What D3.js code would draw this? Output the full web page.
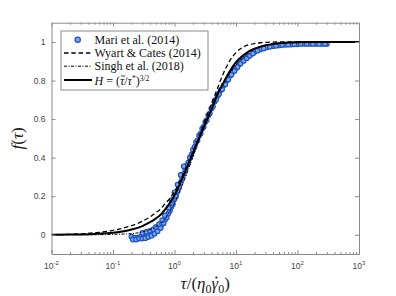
<!DOCTYPE html>
<html><head><meta charset="utf-8">
<script src="https://cdn.jsdelivr.net/npm/d3@7"></script>
<style>body{margin:0;background:#fff}svg{display:block}</style>
</head><body>
<script>
// ---- data ----
const xTickValues = [1e-2, 1e-1, 1e0, 1e1, 1e2, 1e3];
const xTickExponents = ["-2", "-1", "0", "1", "2", "3"];
const yTickValues = [0, 0.2, 0.4, 0.6, 0.8, 1];
const yTickLabels = ["0", "0.2", "0.4", "0.6", "0.8", "1"];

// Mari et al. (2014) simulation points
const mariX1 = [0.1995,0.2239,0.2512,0.2818,0.3162,0.3548,0.3981,0.4467,0.5012,0.5623,0.631,0.7079,0.7943,0.8913,1,1.122,1.259,1.413,1.585,1.778,1.995,2.239,2.512,2.818,3.162,3.548,3.981,4.467,5.012,5.623,6.31,7.079,7.943,8.913,10,11.22,12.59,14.13,15.85,19.95,25.12,31.62,39.81,50.12,63.1,79.43,100,125.9,158.5,199.5,251.2,300];
const mariY1 = [-0.01,-0.015,-0.015,-0.01,-0.01,-0.005,0.0,0.01,0.02,0.035,0.055,0.08,0.11,0.145,0.185,0.225,0.27,0.315,0.36,0.4,0.44,0.48,0.515,0.55,0.585,0.62,0.655,0.69,0.72,0.75,0.775,0.8,0.825,0.845,0.865,0.885,0.9,0.915,0.928,0.948,0.962,0.972,0.978,0.982,0.985,0.987,0.988,0.99,0.99,0.99,0.99,0.99];
const mariX2 = [0.21,0.237,0.266,0.299,0.335,0.376,0.422,0.473,0.531,0.596,0.668,0.75,0.841,0.944,1.059,1.189,1.334,1.496,1.679,1.884,2.113,2.371,2.661,2.985,3.35,3.758,4.217,4.732,5.309,5.957,6.683,7.499,8.414,9.441,10.59,11.89,13.34,14.96,16.79,18.84,22.39,28.18,35.48,44.67,56.23,70.79,89.13,112.2,141.3,177.8,223.9,281.8];
const mariY2 = [-0.025,-0.025,-0.02,-0.02,-0.018,-0.012,-0.005,0.005,0.018,0.035,0.06,0.09,0.125,0.16,0.2,0.245,0.29,0.335,0.375,0.415,0.455,0.49,0.525,0.56,0.595,0.63,0.665,0.7,0.73,0.755,0.78,0.805,0.83,0.85,0.87,0.888,0.902,0.915,0.928,0.94,0.955,0.966,0.975,0.98,0.984,0.986,0.988,0.99,0.99,0.99,0.99,0.99];
const mariX3 = [0.3,0.35,0.4,0.45,0.5,0.56,0.63,0.7,0.8,0.9,1.0,1.12,1.26,1.41];
const mariY3 = [0.01,0.015,0.02,0.028,0.04,0.055,0.075,0.1,0.14,0.18,0.22,0.26,0.31,0.355];

// Wyart & Cates (2014)
const wcX = [0.01,0.02,0.05,0.1,0.15,0.2,0.3,0.4,0.5,0.6,0.7,0.8,1,1.25,1.6,2,2.5,3.2,4,5,6.3,8,10,12.5,16,20,25,32,50,1000];
const wcY = [0.0,0.002,0.01,0.022,0.035,0.047,0.07,0.092,0.115,0.135,0.16,0.18,0.225,0.285,0.36,0.435,0.51,0.6,0.68,0.76,0.84,0.905,0.945,0.97,0.985,0.992,0.996,0.998,1,1];
// Singh et al. (2018)
const sgX = [0.01,0.05,0.1,0.2,0.3,0.4,0.5,0.6,0.7,0.8,1,1.25,1.6,2,2.5,3.2,4,5,6.3,8,10,12.5,16,20,25,32,40,63,100,1000];
const sgY = [0,0,0.002,0.006,0.014,0.026,0.042,0.062,0.085,0.11,0.165,0.235,0.32,0.405,0.49,0.575,0.65,0.72,0.785,0.84,0.88,0.915,0.945,0.963,0.976,0.985,0.99,0.996,0.998,1];
// H = (tau_bar/tau*)^{3/2}
const hX = [0.01,0.02,0.05,0.1,0.15,0.2,0.3,0.4,0.5,0.6,0.7,0.8,1,1.25,1.6,2,2.5,3.2,4,5,6.3,8,10,12.5,16,20,25,32,40,50,63,100,200,1000];
const hY = [0,0.001,0.004,0.01,0.018,0.027,0.045,0.065,0.085,0.105,0.13,0.155,0.205,0.27,0.35,0.425,0.5,0.58,0.65,0.73,0.79,0.85,0.895,0.925,0.95,0.965,0.976,0.984,0.99,0.993,0.996,0.999,1,1];

// ---- chart ----
const W = 396, H = 296;
const svg = d3.select("body").append("svg").attr("width", W).attr("height", H);
const x = d3.scaleLog().domain([1e-2, 1e3]).range([51.5, 359]);
const y = d3.scaleLinear().domain([-0.1, 1.1]).range([254, 22.7]);
const axisColor = "#8a8a8a", labelColor = "#444";
const markFill = "#78a8e6", markEdge = "#1f52c4";

const zip = (a, b) => a.map((v, i) => [v, b[i]]);
svg.append("clipPath").attr("id", "c").append("rect")
  .attr("x", x.range()[0]).attr("y", y.range()[1])
  .attr("width", x.range()[1] - x.range()[0]).attr("height", y.range()[0] - y.range()[1]);
const plot = svg.append("g").attr("clip-path", "url(#c)");

// data markers
const mari = zip(mariX1, mariY1).concat(zip(mariX2, mariY2), zip(mariX3, mariY3));
plot.selectAll("circle.m").data(mari).join("circle").attr("class", "m")
  .attr("cx", d => x(d[0])).attr("cy", d => y(d[1])).attr("r", 2.3)
  .attr("fill", markFill).attr("stroke", markEdge).attr("stroke-width", 1.2);

const line = d3.line().x(d => x(d[0])).y(d => y(d[1])).curve(d3.curveMonotoneX);
plot.append("path").datum(zip(wcX, wcY)).attr("d", line).attr("fill", "none")
  .attr("stroke", "#000").attr("stroke-width", 1.3).attr("stroke-dasharray", "4.5,2.8");
plot.append("path").datum(zip(sgX, sgY)).attr("d", line).attr("fill", "none")
  .attr("stroke", "#000").attr("stroke-width", 1).attr("stroke-dasharray", "3,1.5,1,1.5");
plot.append("path").datum(zip(hX, hY)).attr("d", line).attr("fill", "none")
  .attr("stroke", "#000").attr("stroke-width", 2);

// axes
const minorX = [];
for (let e = -2; e < 3; e++) for (let k = 2; k <= 9; k++) minorX.push(k * Math.pow(10, e));
const x0 = x.range()[0], x1 = x.range()[1], y0 = y.range()[0], y1 = y.range()[1];

function styleAxis(g) {
  g.select(".domain").attr("stroke", axisColor).attr("stroke-width", 1);
  g.selectAll(".tick line").attr("stroke", axisColor);
}
svg.append("g").attr("transform", `translate(0,${y0})`)
  .call(d3.axisBottom(x).tickValues(xTickValues).tickSizeInner(-4).tickSizeOuter(0).tickFormat(() => "")).call(styleAxis);
svg.append("g").attr("transform", `translate(0,${y0})`)
  .call(d3.axisBottom(x).tickValues(minorX).tickSizeInner(-2).tickSizeOuter(0).tickFormat(() => "")).call(styleAxis)
  .select(".domain").remove();
svg.append("g").attr("transform", `translate(0,${y1})`)
  .call(d3.axisTop(x).tickValues(xTickValues).tickSizeInner(-4).tickSizeOuter(0).tickFormat(() => "")).call(styleAxis);
svg.append("g").attr("transform", `translate(0,${y1})`)
  .call(d3.axisTop(x).tickValues(minorX).tickSizeInner(-2).tickSizeOuter(0).tickFormat(() => "")).call(styleAxis)
  .select(".domain").remove();
const gL = svg.append("g").attr("transform", `translate(${x0},0)`)
  .call(d3.axisLeft(y).tickValues(yTickValues).tickSizeInner(-4).tickSizeOuter(0).tickPadding(6)
    .tickFormat((d, i) => yTickLabels[i])).call(styleAxis);
svg.append("g").attr("transform", `translate(${x1},0)`)
  .call(d3.axisRight(y).tickValues(yTickValues).tickSizeInner(-4).tickSizeOuter(0).tickFormat(() => "")).call(styleAxis);

gL.selectAll(".tick text").attr("font-family", "Liberation Sans, Arial, sans-serif")
  .attr("font-size", 8.5).attr("fill", labelColor);

// x tick labels with exponent
svg.append("g").selectAll("text").data(xTickValues).join("text")
  .attr("x", d => x(d)).attr("y", y0 + 15).attr("text-anchor", "middle")
  .attr("font-family", "Liberation Sans, Arial, sans-serif").attr("font-size", 8.5).attr("fill", labelColor)
  .each(function (d, i) {
    const t = d3.select(this);
    t.append("tspan").text("10");
    t.append("tspan").attr("dy", -4).attr("font-size", 6).text(xTickExponents[i]);
  });

// axis titles
const serif = "Liberation Serif, DejaVu Serif, serif";
const xlBase = 289;
const xl = svg.append("text").attr("x", (x0 + x1) / 2).attr("y", xlBase).attr("text-anchor", "middle")
  .attr("font-family", serif).attr("font-size", 17).attr("fill", "#222");
xl.append("tspan").attr("font-style", "italic").text("τ");
xl.append("tspan").text("/(");
xl.append("tspan").attr("font-style", "italic").text("η");
xl.append("tspan").attr("font-size", 12).attr("dy", 4).text("0");
xl.append("tspan").attr("font-style", "italic").attr("dy", -4).text("γ");
xl.append("tspan").attr("font-size", 12).attr("dy", 4).text("0");
xl.append("tspan").attr("dy", -4).text(")");
{ // dot over gamma
  const n = xl.node();
  const s = n.getStartPositionOfChar(5), e = n.getEndPositionOfChar(5);
  svg.append("circle").attr("cx", (s.x + e.x) / 2 + 1.5).attr("cy", xlBase - 11.5).attr("r", 1.1).attr("fill", "#222");
}

const yl = svg.append("text").attr("transform", `translate(23,${(y0 + y1) / 2}) rotate(-90)`)
  .attr("text-anchor", "middle").attr("font-family", serif).attr("font-size", 17).attr("fill", "#222");
yl.append("tspan").attr("font-style", "italic").text("f");
yl.append("tspan").text("(");
yl.append("tspan").attr("font-style", "italic").text("τ");
yl.append("tspan").text(")");

// legend
const lg = svg.append("g");
lg.append("rect").attr("x", 61).attr("y", 31).attr("width", 147).attr("height", 59)
  .attr("fill", "#fff").attr("stroke", axisColor).attr("stroke-width", 1);
const rows = [39.8, 53, 66.2, 80];
const names = ["Mari et al. (2014)", "Wyart & Cates (2014)", "Singh et al. (2018)", null];
lg.append("circle").attr("cx", 77.7).attr("cy", rows[0]).attr("r", 2.6)
  .attr("fill", markFill).attr("stroke", markEdge).attr("stroke-width", 1.3);
lg.append("line").attr("x1", 64).attr("x2", 92).attr("y1", rows[1]).attr("y2", rows[1])
  .attr("stroke", "#000").attr("stroke-width", 1.3).attr("stroke-dasharray", "4.5,2.8");
lg.append("line").attr("x1", 64).attr("x2", 92).attr("y1", rows[2]).attr("y2", rows[2])
  .attr("stroke", "#000").attr("stroke-width", 1).attr("stroke-dasharray", "3,1.5,1,1.5");
lg.append("line").attr("x1", 64).attr("x2", 92).attr("y1", rows[3]).attr("y2", rows[3])
  .attr("stroke", "#000").attr("stroke-width", 2);
names.forEach((n, i) => {
  if (!n) return;
  lg.append("text").attr("x", 94.5).attr("y", rows[i] + 4).attr("font-family", serif)
    .attr("font-size", 12).attr("fill", "#111").text(n);
});
const hBase = rows[3] + 4.5;
const ht = lg.append("text").attr("x", 94.5).attr("y", hBase).attr("font-family", serif)
  .attr("font-size", 12).attr("fill", "#111");
ht.append("tspan").attr("font-style", "italic").text("H");
ht.append("tspan").text(" = (");
ht.append("tspan").attr("font-style", "italic").text("τ");
ht.append("tspan").text("/");
ht.append("tspan").attr("font-style", "italic").text("τ");
ht.append("tspan").attr("font-size", 7.5).attr("dy", -3.5).text("*");
ht.append("tspan").attr("dy", 3.5).text(")");
ht.append("tspan").attr("font-size", 7.5).attr("dy", -4).text("3/2");
{ // bar over tau
  const n = ht.node();
  const s = n.getStartPositionOfChar(5), e = n.getEndPositionOfChar(5);
  lg.append("line").attr("x1", s.x + 1).attr("x2", e.x + 1).attr("y1", hBase - 8.5).attr("y2", hBase - 8.5)
    .attr("stroke", "#111").attr("stroke-width", 0.8);
}
</script>
</body></html>
